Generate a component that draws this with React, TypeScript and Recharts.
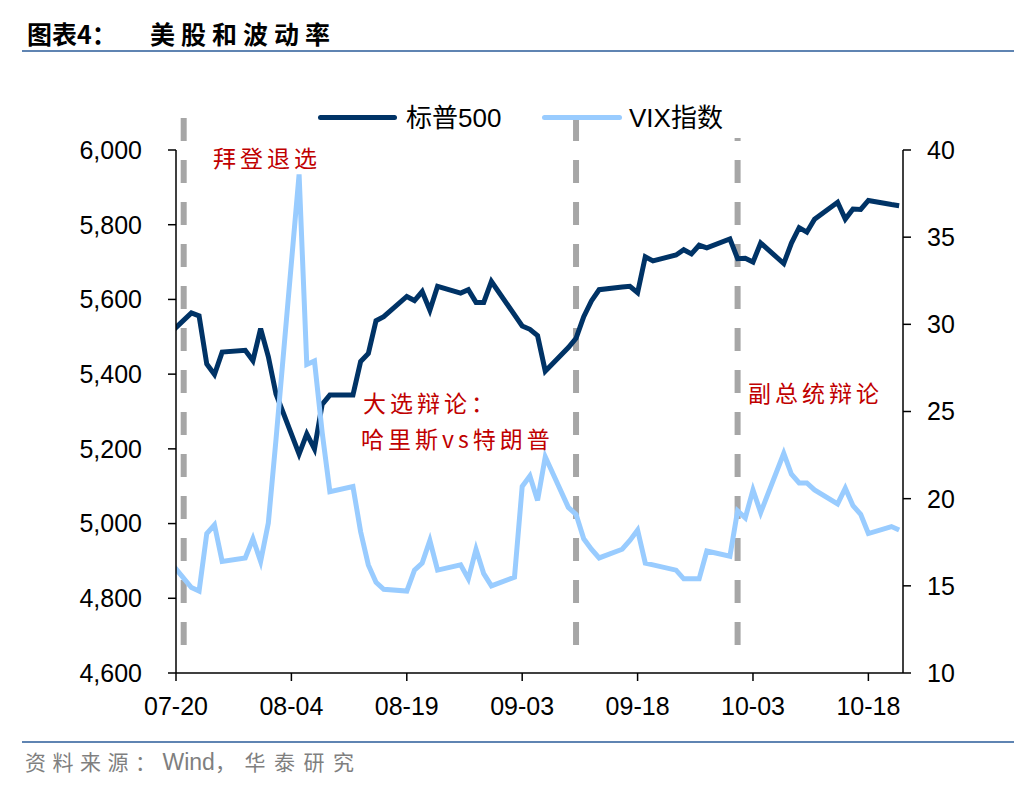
import { LineChart, Line, XAxis, YAxis, ReferenceLine } from 'recharts';

// trading days (2024), S&P 500 close and VIX close; 09-02 only has a VIX print
const dates = [
    '07-19', '07-22', '07-23', '07-24', '07-25', '07-26', '07-29', '07-30', '07-31',
    '08-01', '08-02', '08-05', '08-06', '08-07', '08-08', '08-09', '08-12', '08-13', '08-14', '08-15', '08-16',
    '08-19', '08-20', '08-21', '08-22', '08-23', '08-26', '08-27', '08-28', '08-29', '08-30',
    '09-02', '09-03', '09-04', '09-05', '09-06', '09-09', '09-10', '09-11', '09-12', '09-13', '09-16', '09-17', '09-18',
    '09-19', '09-20', '09-23', '09-24', '09-25', '09-26', '09-27', '09-30',
    '10-01', '10-02', '10-03', '10-04', '10-07', '10-08', '10-09', '10-10', '10-11', '10-14', '10-15', '10-16',
    '10-17', '10-18', '10-21', '10-22',
];

const spx = [
    5505, 5564, 5556, 5427, 5399, 5459, 5464, 5436, 5522,
    5447, 5347, 5186, 5240, 5200, 5319, 5344, 5344, 5434, 5455, 5543, 5554,
    5608, 5597, 5621, 5571, 5635, 5617, 5626, 5592, 5592, 5648,
    null, 5529, 5520, 5503, 5408, 5471, 5496, 5554, 5596, 5626, 5633, 5635, 5618,
    5714, 5703, 5719, 5733, 5722, 5745, 5738, 5762,
    5709, 5710, 5700, 5751, 5696, 5751, 5792, 5780, 5815, 5860, 5815, 5842,
    5841, 5865, 5854, 5851,
];

const vix = [
    16.5, 14.9, 14.7, 18.0, 18.5, 16.4, 16.6, 17.7, 16.4,
    18.6, 23.4, 38.6, 27.7, 27.9, 23.8, 20.4, 20.7, 18.1, 16.2, 15.2, 14.8,
    14.7, 15.9, 16.3, 17.6, 15.9, 16.2, 15.4, 17.1, 15.7, 15.0,
    15.5, 20.7, 21.3, 19.9, 22.4, 19.5, 19.1, 17.7, 17.1, 16.6, 17.1, 17.6, 18.2,
    16.3, 16.2, 15.9, 15.4, 15.4, 15.4, 17.0, 16.7,
    19.3, 18.9, 20.5, 19.2, 22.6, 21.4, 20.9, 20.9, 20.5, 19.7, 20.6, 19.6,
    19.1, 18.0, 18.4, 18.2,
];

const xTickLabels = ['07-20', '08-04', '08-19', '09-03', '09-18', '10-03', '10-18'];
const leftTicks = [4600, 4800, 5000, 5200, 5400, 5600, 5800, 6000];
const rightTicks = [10, 15, 20, 25, 30, 35, 40];

const eventDates = ['07-21', '09-10', '10-01'];
const eventLabels = [['拜登退选'], ['大选辩论：', '哈里斯vs特朗普'], ['副总统辩论']];

const base = Date.UTC(2024, 6, 20);
const dayOf = (md: string) => {
    const [m, d] = md.split('-').map(Number);
    return (Date.UTC(2024, m - 1, d) - base) / 864e5;
};

const rows = dates.map((d, i) => ({ day: dayOf(d), spx: spx[i], vix: vix[i] }));
const xTicks = xTickLabels.map(dayOf);

const latin = '"Liberation Sans", Arial, sans-serif';
const cjk = '"Liberation Sans", "Noto Sans CJK SC", sans-serif';
const cjkOnly = '"Noto Sans CJK SC", sans-serif';
const tickStyle = { fill: '#000', fontSize: 25, fontFamily: latin };
const axisStyle = { stroke: '#000', strokeWidth: 1.5 };

// top end of each dashed marker, on the VIX scale (they run past the plot top)
const markerTop = [41.84, 41.84, 40.69];
const markerOffset = [0, 0, 20];

const labelPos = [
    [{ left: 213, top: 145 }],
    [{ left: 363, top: 390 }, { left: 361, top: 426 }],
    [{ left: 748, top: 380 }],
];

export default function App() {
    return (
        <div style={{ position: 'absolute', left: 0, top: 0, width: 1036, height: 792, background: '#fff', fontFamily: cjk }}>
            {/* title */}
            <div style={{ position: 'absolute', left: 27, top: 18, fontSize: 25, fontWeight: 700, lineHeight: '30px', color: '#000', fontFamily: cjkOnly }}>
                图表4：
            </div>
            <div style={{ position: 'absolute', left: 150, top: 18, fontSize: 25, fontWeight: 700, lineHeight: '30px', letterSpacing: 6, color: '#000', fontFamily: cjkOnly }}>
                美股和波动率
            </div>
            <div style={{ position: 'absolute', left: 22, top: 50, width: 992, height: 2, background: '#5F84B2' }} />

            <LineChart width={1036} height={792} data={rows} margin={{ top: 150, right: 33, bottom: 59, left: 76 }}>
                <XAxis
                    dataKey="day"
                    type="number"
                    domain={[0, 94.5]}
                    allowDataOverflow
                    ticks={xTicks}
                    interval={0}
                    tickFormatter={(v) => xTickLabels[xTicks.indexOf(v)] ?? ''}
                    height={60}
                    tickSize={8}
                    tickMargin={16}
                    axisLine={axisStyle}
                    tickLine={axisStyle}
                    tick={tickStyle}
                />
                <YAxis
                    yAxisId="left"
                    domain={[4600, 6000]}
                    ticks={leftTicks}
                    interval={0}
                    width={100}
                    tickSize={8}
                    tickMargin={26}
                    tickFormatter={(v) => Number(v).toLocaleString('en-US')}
                    axisLine={axisStyle}
                    tickLine={axisStyle}
                    tick={tickStyle}
                />
                <YAxis
                    yAxisId="right"
                    orientation="right"
                    domain={[10, 40]}
                    ticks={rightTicks}
                    interval={0}
                    width={100}
                    tickSize={8}
                    tickMargin={16}
                    axisLine={axisStyle}
                    tickLine={axisStyle}
                    tick={tickStyle}
                />
                {eventDates.map((d, i) => (
                    <ReferenceLine
                        key={d}
                        yAxisId="right"
                        segment={[{ x: dayOf(d), y: markerTop[i] }, { x: dayOf(d), y: 11.6 }]}
                        ifOverflow="visible"
                        stroke="#A6A6A6"
                        strokeWidth={6}
                        strokeDasharray="23 19"
                        strokeDashoffset={markerOffset[i]}
                    />
                ))}
                <Line yAxisId="left" dataKey="spx" name="标普500" stroke="#003366" strokeWidth={5} dot={false} connectNulls isAnimationActive={false} />
                <Line yAxisId="right" dataKey="vix" name="VIX指数" stroke="#99CCFF" strokeWidth={5} dot={false} isAnimationActive={false} />
            </LineChart>

            {/* legend */}
            <div style={{ position: 'absolute', left: 318, top: 115, width: 79, height: 5, borderRadius: 3, background: '#003366' }} />
            <div style={{ position: 'absolute', left: 406, top: 103, fontSize: 26, lineHeight: '30px', color: '#000' }}>标普500</div>
            <div style={{ position: 'absolute', left: 542, top: 115, width: 80, height: 5, borderRadius: 3, background: '#99CCFF' }} />
            <div style={{ position: 'absolute', left: 629, top: 103, fontSize: 26, lineHeight: '30px', color: '#000' }}>VIX指数</div>

            {/* event notes */}
            {eventLabels.map((lines, i) =>
                lines.map((t, j) => (
                    <div
                        key={t}
                        style={{
                            position: 'absolute',
                            left: labelPos[i][j].left,
                            top: labelPos[i][j].top,
                            fontSize: 23,
                            lineHeight: '24px',
                            letterSpacing: 4,
                            color: '#C00000',
                            whiteSpace: 'nowrap',
                            fontFamily: cjkOnly,
                        }}
                    >
                        {t}
                    </div>
                ))
            )}

            <div style={{ position: 'absolute', left: 22, top: 741, width: 992, height: 2, background: '#5F84B2' }} />
            <div style={{ position: 'absolute', left: 25, top: 748, fontSize: 21, lineHeight: '26px', color: '#7F7F7F', whiteSpace: 'nowrap' }}>
                <span style={{ letterSpacing: 6.5, fontFamily: cjkOnly }}>资料来源：</span>
                <span style={{ fontFamily: latin, fontSize: 23 }}>Wind</span>
                <span style={{ letterSpacing: 8.5, fontFamily: cjkOnly }}>，华泰研究</span>
            </div>
        </div>
    );
}
